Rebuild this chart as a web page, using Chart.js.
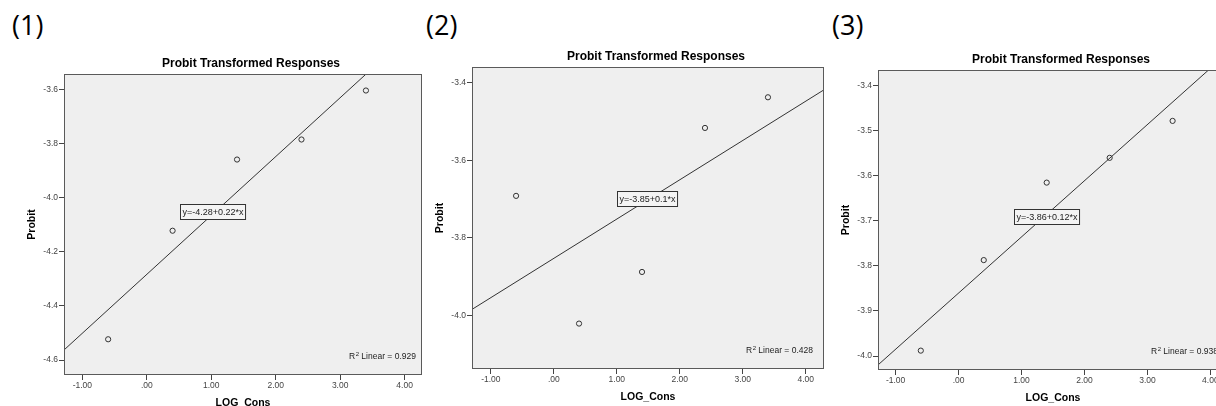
<!DOCTYPE html>
<html><head><meta charset="utf-8">
<script src="https://cdn.jsdelivr.net/npm/chart.js@4.4.0/dist/chart.umd.min.js"></script>
<style>
html,body{margin:0;padding:0;width:1216px;height:406px;overflow:hidden;background:#fff;position:relative;}
canvas{position:absolute;top:0;}
.lab{position:absolute;font-family:"Open Sans","Noto Sans",sans-serif;font-size:27px;color:#000;line-height:1;}
</style></head><body>
<div class="lab" style="left:12px;top:11px">(1)</div>
<div class="lab" style="left:426px;top:11px">(2)</div>
<div class="lab" style="left:832px;top:11px">(3)</div>
<canvas id="c1" width="430" height="406" style="left:0px"></canvas>
<canvas id="c2" width="410" height="406" style="left:425px"></canvas>
<canvas id="c3" width="410" height="406" style="left:830px"></canvas>
<script>
// ---- data ----
const logCons = [-0.6, 0.4, 1.4, 2.4, 3.4];
const probit1 = [-4.523, -4.122, -3.859, -3.785, -3.604];
const probit2 = [-3.692, -4.021, -3.888, -3.517, -3.438];
const probit3 = [-3.988, -3.787, -3.615, -3.560, -3.478];
const equations = ["y=-4.28+0.22*x", "y=-3.85+0.1*x", "y=-3.86+0.12*x"];
const r2Values = ["0.929", "0.428", "0.938"];
const xTicks = [-1, 0, 1, 2, 3, 4];
const xTickLabels = ["-1.00", ".00", "1.00", "2.00", "3.00", "4.00"];
const yTicks1 = [-3.6, -3.8, -4.0, -4.2, -4.4, -4.6];
const yTickLabels1 = ["-3.6", "-3.8", "-4.0", "-4.2", "-4.4", "-4.6"];
const yTicks2 = [-3.4, -3.6, -3.8, -4.0];
const yTickLabels2 = ["-3.4", "-3.6", "-3.8", "-4.0"];
const yTicks3 = [-3.4, -3.5, -3.6, -3.7, -3.8, -3.9, -4.0];
const yTickLabels3 = ["-3.4", "-3.5", "-3.6", "-3.7", "-3.8", "-3.9", "-4.0"];
const titleText = "Probit Transformed Responses";
const xTitle = "LOG_Cons";
const yTitle = "Probit";

// ---- layout per panel ----
const panels = [
  {id:'c1', y:probit1, yTicks:yTicks1, yLabels:yTickLabels1, eq:equations[0], r2:r2Values[0],
   xmin:-1.285, xmax:4.27, ymin:-4.655, ymax:-3.543, pad:{left:24,right:8,top:74,bottom:11},
   eqPos:{x:1.02,y:-4.051}, r2Off:73},
  {id:'c2', y:probit2, yTicks:yTicks2, yLabels:yTickLabels2, eq:equations[1], r2:r2Values[1],
   xmin:-1.30, xmax:4.29, ymin:-4.138, ymax:-3.36, pad:{left:7,right:11,top:67,bottom:17},
   eqPos:{x:1.48,y:-3.70}, r2Off:78},
  {id:'c3', y:probit3, yTicks:yTicks3, yLabels:yTickLabels3, eq:equations[2], r2:r2Values[2],
   xmin:-1.28, xmax:4.28, ymin:-4.031, ymax:-3.365, pad:{left:8,right:12,top:70,bottom:16},
   eqPos:{x:1.40,y:-3.691}, r2Off:77}
];

function fit(xs, ys){
  const n = xs.length;
  const mx = xs.reduce((a,b)=>a+b,0)/n, my = ys.reduce((a,b)=>a+b,0)/n;
  let sxy=0, sxx=0;
  for(let i=0;i<n;i++){ sxy+=(xs[i]-mx)*(ys[i]-my); sxx+=(xs[i]-mx)*(xs[i]-mx); }
  const b = sxy/sxx; return {a: my-b*mx, b};
}

const FONT = '"Liberation Sans", Arial, sans-serif';

const decor = {
  id:'decor',
  beforeDraw(chart){
    const {ctx, chartArea:a} = chart;
    ctx.save();
    ctx.fillStyle = '#efefef';
    ctx.fillRect(a.left, a.top, a.right-a.left, a.bottom-a.top);
    ctx.restore();
  },
  afterDraw(chart){
    const {ctx, chartArea:a, scales} = chart;
    const p = chart.options.plugins.decor;
    ctx.save();
    // frame
    ctx.strokeStyle = '#5a5a5a'; ctx.lineWidth = 1;
    ctx.strokeRect(Math.round(a.left)+0.5, Math.round(a.top)+0.5, Math.round(a.right-a.left)-1, Math.round(a.bottom-a.top)-1);
    // title
    ctx.fillStyle = '#000';
    ctx.font = 'bold 12px ' + FONT;
    ctx.textAlign = 'center'; ctx.textBaseline = 'middle';
    ctx.fillText(titleText, (a.left+a.right)/2 + 8, a.top - 10);
    // axis titles
    ctx.font = 'bold 10.5px ' + FONT;
    ctx.fillText(xTitle, (a.left+a.right)/2, a.bottom + 28);
    ctx.save();
    ctx.translate(a.left - 32, (a.top+a.bottom)/2);
    ctx.rotate(-Math.PI/2);
    ctx.fillText(yTitle, 0, 0);
    ctx.restore();
    // equation box
    ctx.font = '9px ' + FONT;
    const w = ctx.measureText(p.eq).width;
    const cx = scales.x.getPixelForValue(p.eqPos.x), cy = scales.y.getPixelForValue(p.eqPos.y);
    const bx = Math.round(cx - w/2 - 2) + 0.5, by = Math.round(cy - 7.5) + 0.5;
    ctx.fillStyle = '#f4f4f4';
    ctx.fillRect(bx, by, w+4, 15);
    ctx.strokeStyle = '#333';
    ctx.strokeRect(bx, by, w+4, 15);
    ctx.fillStyle = '#222';
    ctx.textAlign = 'left';
    ctx.fillText(p.eq, bx + 2, by + 8);
    // R2 text
    let rx = a.right - p.r2Off; const ry = a.bottom - 18;
    ctx.font = '8.5px ' + FONT;
    ctx.fillStyle = '#222';
    ctx.fillText('R', rx, ry); rx += ctx.measureText('R').width;
    ctx.font = '6px ' + FONT;
    ctx.fillText('2', rx + 0.5, ry - 3); rx += ctx.measureText('2').width + 0.5;
    ctx.font = '8.5px ' + FONT;
    ctx.fillText(' Linear = ' + p.r2, rx, ry);
    ctx.restore();
  }
};

panels.forEach(pn => {
  const f = fit(logCons, pn.y);
  const pts = logCons.map((x,i)=>({x, y:pn.y[i]}));
  const line = [{x:pn.xmin, y:f.a+f.b*pn.xmin}, {x:pn.xmax, y:f.a+f.b*pn.xmax}];
  new Chart(document.getElementById(pn.id), {
    type:'scatter',
    data:{datasets:[
      {type:'line', data:line, borderColor:'#333', borderWidth:1, pointRadius:0, fill:false, tension:0},
      {data:pts, pointRadius:2.6, pointBorderWidth:1, borderColor:'#333', backgroundColor:'rgba(0,0,0,0)', pointHoverRadius:2.6}
    ]},
    options:{
      responsive:false, animation:false, devicePixelRatio:1,
      layout:{padding:pn.pad},
      plugins:{legend:{display:false}, title:{display:false}, tooltip:{enabled:false},
        decor:{eq:pn.eq, r2:pn.r2, eqPos:pn.eqPos, r2Off:pn.r2Off}},
      events:[],
      scales:{
        x:{type:'linear', min:pn.xmin, max:pn.xmax,
          afterBuildTicks:s=>{ s.ticks = xTicks.map(v=>({value:v})); },
          afterFit:s=>{ s.height = 20; },
          ticks:{callback:(v,i)=>xTickLabels[i], font:{size:8.5, family:FONT}, color:'#444', padding:1, maxRotation:0, autoSkip:false},
          grid:{drawOnChartArea:false, drawTicks:true, tickLength:5, color:'#444'},
          border:{display:false}},
        y:{type:'linear', min:pn.ymin, max:pn.ymax,
          afterBuildTicks:s=>{ s.ticks = pn.yTicks.map(v=>({value:v})); },
          afterFit:s=>{ s.width = 40; },
          ticks:{callback:(v,i)=>pn.yLabels[i], font:{size:8.5, family:FONT}, color:'#444', padding:1, autoSkip:false},
          grid:{drawOnChartArea:false, drawTicks:true, tickLength:5, color:'#444'},
          border:{display:false}}
      }
    },
    plugins:[decor]
  });
});
</script>
</body></html>
